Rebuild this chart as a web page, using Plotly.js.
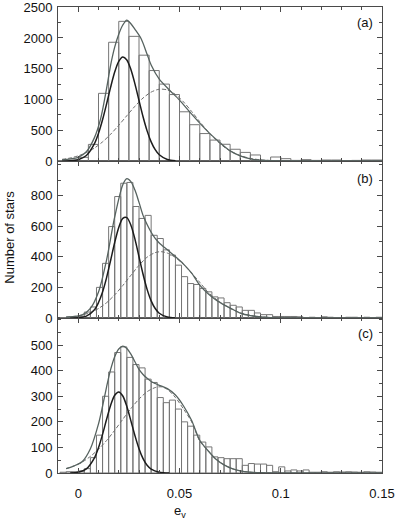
<!DOCTYPE html>
<html>
<head>
<meta charset="utf-8">
<script src="https://cdn.plot.ly/plotly-3.0.1.min.js"></script>
<style>
  html, body { margin: 0; padding: 0; background: #fff; }
  #chart { width: 396px; height: 523px; }
</style>
</head>
<body>
<div id="chart"></div>
<script>
/*
Histogram data (bin centres and counts)
*/
var binsA = [-0.0075,-0.0025,0.0025,0.0075,0.0125,0.0175,0.0225,0.0275,0.0325,0.0375,0.0425,0.0475,
  0.0525,0.0575,0.0625,0.0675,0.0725,0.0775,0.0825,0.0875,0.0925,0.0975,0.1025,0.1075,0.1125,0.1175,
  0.1225,0.1275,0.1325,0.1375,0.1425,0.1475];
var countsA = [5,15,60,270,1100,1930,2270,2026,1720,1470,1250,1080,800,590,446,340,272,191,140,98,
  5,65,38,10,22,10,16,16,5,10,16,16];

var binsBC = [-0.0075,-0.0045,-0.0015,0.0015,0.0045,0.0075,0.0105,0.0135,0.0165,0.0195,0.0225,0.0255,
  0.0285,0.0315,0.0345,0.0375,0.0405,0.0435,0.0465,0.0495,0.0525,0.0555,0.0585,0.0615,0.0645,0.0675,
  0.0705,0.0735,0.0765,0.0795,0.0825,0.0855,0.0885,0.0915,0.0945,0.0975,0.1005,0.1035,0.1065,0.1095,
  0.1125,0.1155,0.1185,0.1215,0.1245,0.1275,0.1305,0.1335,0.1365,0.1395,0.1425,0.1455,0.1485];
var countsB = [3,5,8,12,39,72,200,357,597,793,880,885,728,650,670,540,519,445,411,345,270,225,219,193,
  171,138,131,100,83,72,50,50,33,22,22,10,10,10,10,8,3,5,3,8,5,3,3,5,5,3,5,3,5];
var countsC = [3,5,5,8,17,60,148,300,395,471,493,452,424,411,367,354,295,275,285,250,200,183,148,121,
  102,63,60,56,56,56,30,37,35,35,30,5,24,8,12,8,12,3,3,5,3,5,4,5,4,3,5,4,3];

/*
Fitted curves: narrow component, broad component, total
*/
var aNarrowX = [-0.008,-0.004,0,0.004,0.008,0.010,0.012,0.014,0.016,0.018,0.020,0.022,0.024,0.026,0.028,0.030,0.032,0.034,0.036,0.038,0.040,0.044,0.048];
var aNarrowY = [0,4,21,89,282,450,670,929,1201,1445,1619,1690,1641,1487,1253,984,720,490,311,184,101,25,5];
var aBroadX = [-0.008,-0.004,0,0.004,0.008,0.012,0.016,0.020,0.024,0.028,0.032,0.036,0.040,0.044,0.048,0.052,0.056,0.060,0.064,0.068,0.072,0.076,0.080,0.085,0.090,0.095,0.100];
var aBroadY = [27,49,84,136,211,311,436,581,737,890,1024,1120,1167,1155,1082,960,805,639,480,341,229,146,88,43,19,8,3];
var aTotalX = [-0.008,-0.004,0,0.004,0.008,0.011,0.014,0.016,0.018,0.020,0.022,0.024,0.026,0.028,0.031,0.034,0.036,0.040,0.045,0.050,0.055,0.060,0.065,0.070,0.075,0.080,0.085,0.090,0.095,0.100,0.110,0.120,0.130,0.140,0.150];
var aTotalY = [20,35,60,150,380,680,1180,1560,1850,2060,2210,2290,2230,2140,1990,1735,1560,1330,1155,990,800,615,445,299,165,85,35,12,4,1,0,0,0,0,0];

var bNarrowX = [-0.004,0,0.004,0.008,0.010,0.012,0.014,0.016,0.018,0.020,0.022,0.024,0.026,0.028,0.030,0.032,0.034,0.036,0.038,0.040,0.044,0.048];
var bNarrowY = [0,2,12,54,101,170,264,377,493,591,650,655,606,515,400,286,187,112,62,31,6,0];
var bBroadX = [-0.006,-0.002,0.002,0.006,0.010,0.014,0.018,0.022,0.026,0.030,0.034,0.038,0.041,0.044,0.048,0.052,0.056,0.060,0.064,0.068,0.072,0.076,0.080,0.085,0.090,0.095,0.100];
var bBroadY = [5,10,20,36,62,100,151,212,279,344,397,427,433,424,395,349,293,233,170,124,86,57,34,17,8,3,1];
var bTotalX = [-0.006,-0.002,0.002,0.006,0.010,0.014,0.018,0.022,0.024,0.026,0.028,0.030,0.032,0.034,0.036,0.038,0.040,0.044,0.048,0.052,0.056,0.060,0.064,0.068,0.072,0.076,0.080,0.085,0.090,0.095,0.100,0.110,0.120,0.130,0.140,0.150];
var bTotalY = [5,10,21,63,170,380,660,870,910,890,835,755,670,610,560,520,490,445,400,352,293,215,160,118,86,58,32,15,7,3,1,0,0,0,0,0];

var cNarrowX = [-0.004,0,0.004,0.008,0.010,0.012,0.014,0.016,0.018,0.020,0.022,0.024,0.026,0.028,0.030,0.032,0.034,0.036,0.040,0.045];
var cNarrowY = [0,3,16,59,99,151,210,265,304,317,301,260,204,146,95,56,30,15,3,0];
var cBroadX = [-0.006,-0.002,0.002,0.006,0.010,0.014,0.018,0.022,0.026,0.030,0.034,0.038,0.041,0.044,0.048,0.052,0.056,0.060,0.064,0.068,0.072,0.076,0.080,0.085,0.090,0.100];
var cBroadY = [17,28,43,65,93,127,167,210,252,289,318,334,337,327,295,250,200,125,88,55,32,17,8,3,1,0];
var cTotalX = [-0.006,-0.002,0.002,0.006,0.010,0.012,0.014,0.016,0.018,0.020,0.022,0.024,0.026,0.028,0.030,0.032,0.034,0.036,0.038,0.040,0.044,0.048,0.052,0.056,0.060,0.064,0.068,0.072,0.076,0.080,0.085,0.090,0.100,0.110,0.120,0.130,0.140,0.150];
var cTotalY = [17,28,45,95,192,261,337,405,455,485,496,487,465,435,405,385,370,358,350,343,330,305,262,205,128,88,54,32,17,8,3,1,0,0,0,0,0,0];

var panelLabels = ['(a)', '(b)', '(c)'];
var xTickVals = [0, 0.05, 0.1, 0.15];
var xTickText = ['0', '0.05', '0.1', '0.15'];
var yTicksA = [0, 500, 1000, 1500, 2000, 2500];
var yTicksB = [0, 200, 400, 600, 800];
var yTicksC = [0, 100, 200, 300, 400, 500];

var histColor = '#767676';
var totalColor = '#56625f';
var narrowColor = '#1c1c1c';
var broadColor = '#6e6e6e';
var axisColor = '#4a4a4a';

function hist(x, y, w, xa, ya) {
  return {
    type: 'bar', x: x, y: y, width: w, xaxis: xa, yaxis: ya,
    marker: { color: 'rgba(255,255,255,0)', line: { color: histColor, width: 1 } },
    hoverinfo: 'skip'
  };
}
function curve(x, y, color, w, dash, xa, ya) {
  return {
    type: 'scatter', mode: 'lines', x: x, y: y, xaxis: xa, yaxis: ya,
    line: { color: color, width: w, dash: dash, shape: 'spline', smoothing: 0.8 },
    hoverinfo: 'skip'
  };
}

var data = [
  hist(binsA, countsA, 0.005, 'x3', 'y'),
  curve(aBroadX, aBroadY, broadColor, 1, '4px,2px', 'x3', 'y'),
  curve(aNarrowX, aNarrowY, narrowColor, 1.5, 'solid', 'x3', 'y'),
  curve(aTotalX, aTotalY, totalColor, 1.3, 'solid', 'x3', 'y'),

  hist(binsBC, countsB, 0.003, 'x2', 'y2'),
  curve(bBroadX, bBroadY, broadColor, 1, '4px,2px', 'x2', 'y2'),
  curve(bNarrowX, bNarrowY, narrowColor, 1.5, 'solid', 'x2', 'y2'),
  curve(bTotalX, bTotalY, totalColor, 1.3, 'solid', 'x2', 'y2'),

  hist(binsBC, countsC, 0.003, 'x', 'y3'),
  curve(cBroadX, cBroadY, broadColor, 1, '4px,2px', 'x', 'y3'),
  curve(cNarrowX, cNarrowY, narrowColor, 1.5, 'solid', 'x', 'y3'),
  curve(cTotalX, cTotalY, totalColor, 1.3, 'solid', 'x', 'y3')
];

function xAxis(anchor, labels) {
  return {
    anchor: anchor, range: [-0.01, 0.15],
    tickvals: xTickVals, ticktext: xTickText, showticklabels: labels,
    ticks: 'inside', ticklen: 5, tickcolor: axisColor, ticklabelstandoff: 8,
    minor: { dtick: 0.01, tick0: 0, ticks: 'inside', ticklen: 3, tickcolor: axisColor },
    showline: true, linecolor: axisColor, linewidth: 1, mirror: 'allticks',
    showgrid: false, zeroline: false
  };
}
function yAxis(domain, range, vals, minor) {
  return {
    domain: domain, range: range, tickvals: vals,
    ticks: 'inside', ticklen: 5, tickcolor: axisColor, ticklabelstandoff: 2,
    ticklabeloverflow: 'allow',
    minor: { dtick: minor, tick0: 0, ticks: 'inside', ticklen: 3, tickcolor: axisColor },
    showline: true, linecolor: axisColor, linewidth: 1, mirror: 'allticks',
    showgrid: false, zeroline: false
  };
}

var layout = {
  width: 396, height: 523,
  margin: { l: 58, r: 14, t: 7, b: 50 },
  paper_bgcolor: '#fff', plot_bgcolor: '#fff',
  font: { family: 'Liberation Sans, Arial, sans-serif', size: 13, color: '#111' },
  showlegend: false,
  barmode: 'overlay',
  xaxis: xAxis('y3', true),
  xaxis2: xAxis('y2', false),
  xaxis3: xAxis('y', false),
  yaxis: yAxis([0.6695, 1], [0, 2503], yTicksA, 250),
  yaxis2: yAxis([0.3326, 0.6695], [0, 1025], yTicksB, 100),
  yaxis3: yAxis([0, 0.3326], [0, 606], yTicksC, 50),
  annotations: [
    { text: panelLabels[0], xref: 'paper', yref: 'paper', x: 0.948, y: 0.966, showarrow: false, xanchor: 'center', yanchor: 'middle' },
    { text: panelLabels[1], xref: 'paper', yref: 'paper', x: 0.948, y: 0.633, showarrow: false, xanchor: 'center', yanchor: 'middle' },
    { text: panelLabels[2], xref: 'paper', yref: 'paper', x: 0.948, y: 0.300, showarrow: false, xanchor: 'center', yanchor: 'middle' },
    { text: 'Number of stars', xref: 'paper', yref: 'paper', x: -0.148, y: 0.505, textangle: -90, showarrow: false, xanchor: 'center', yanchor: 'middle' },
    { text: 'e<sub>v</sub>', xref: 'paper', yref: 'paper', x: 0.377, y: -0.082, showarrow: false, xanchor: 'center', yanchor: 'middle' }
  ]
};

var config = { staticPlot: true };
Plotly.newPlot('chart', data, layout, config);
</script>
</body>
</html>
